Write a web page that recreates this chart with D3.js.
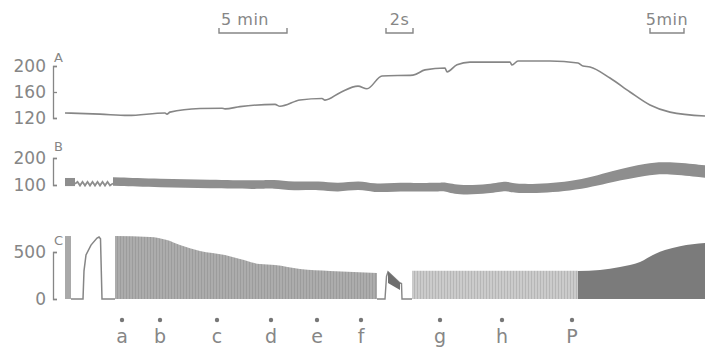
<!DOCTYPE html>
<html><head><meta charset="utf-8">
<script src="https://cdn.jsdelivr.net/npm/d3@7"></script>
<style>
html,body{margin:0;padding:0;background:#fff;}
svg{display:block;font-family:"DejaVu Sans",sans-serif;}
</style></head>
<body><svg id="c" width="705" height="351"></svg>
<script>
// ---- data (position along chart record, arbitrary units 0..640) ----
// Trace A: [position, value]
const traceA = [[0,127.7],[35,126],[63,124],[100,127.7],[102,126],[105,129],[135,134.5],[157,135],[160,134],[175,137.5],[210,141],[215,138],[235,147.7],[257,150],[260,147.5],[275,159],[293,169],[302,165],[317,184.6],[348,186],[360,194],[380,197],[382,191],[392,202],[405,206],[445,206],[447,201.5],[453,207.7],[485,207.7],[513,204.6],[518,200],[525,198.5],[545,181.5],[565,160],[585,140],[605,129],[640,123]];
const ticksA = [120,160,200];

// Trace B: opening block [start,end,low,high]
const bBlock = [0,10,96,126];
// Trace B: oscillating segment [position, value]
const bZig = [[10,104],[12.5,112],[15,98],[17.5,112],[20,98],[22.5,112],[25,98],[27.5,112],[30,98],[32.5,112],[35,98],[37.5,112],[40,98],[42.5,112],[45,98],[48,106]];
// Trace B band: [position, low, high]
const bBand = [[48,97,129],[95,91,123],[145,88,120],[195,84,116],[208,89,121],[228,78,110],[255,84,116],[272,72,104],[295,86,118],[308,71,103],[330,76,108],[347,76,108],[375,75,107],[378,80,112],[392,62,98],[425,68,102],[443,82,118],[448,66,100],[508,75,109],[548,112,154],[582,136,182],[602,143,187],[640,127,173]];
const ticksB = [100,200];

// Trace C
const cBar1 = [0,6,670];
const cPulse = [[6,0],[18,0],[19,300],[21,468],[26,574],[32,649],[34,660],[35.5,640],[37,0],[50,0]];
const cFill1 = [[50,670],[85,660],[102,628],[115,575],[135,511],[160,468],[175,426],[195,372],[210,362],[235,319],[265,298],[312,277]];
const cSpikeLine = [[312,0],[320,0],[321.5,240],[323,290],[335,170],[336.5,165],[337,0],[347,0]];
const cFlagTop = [[323,290],[335,170]];
const cFlagBottom = [[323,170],[335,95]];
const cFill2 = [[347,300],[513,300]];
const cFill3 = [[513,298],[535,309],[555,340],[575,394],[590,480],[600,521],[615,562],[640,596]];
const ticksC = [0,500];

// Event markers
const markerLabels = ['a','b','c','d','e','f','g','h','P'];
const markerPos = [57,95,152,206,252,296,375,437,507];

// Time scale bars: [start, end, label]
const scaleBars = [[154,222,'5 min'],[321,348,'2s'],[585,619,'5min']];

// ---- drawing ----
const svg = d3.select('#c');
const ink = '#868686';
const x = d3.scaleLinear().domain([0,640]).range([65,705]);
const yA = d3.scaleLinear().domain([120,200]).range([118,66]);
const yB = d3.scaleLinear().domain([100,200]).range([185,158]);
const yC = d3.scaleLinear().domain([0,500]).range([299,252]);

const defs = svg.append('defs');
function hatch(id, bg, fg){
  const p = defs.append('pattern').attr('id',id).attr('patternUnits','userSpaceOnUse').attr('width',3).attr('height',10);
  p.append('rect').attr('width',3).attr('height',10).attr('fill',bg);
  p.append('rect').attr('width',1).attr('height',10).attr('fill',fg);
}
hatch('h1','#acacac','#9c9c9c');
hatch('h2','#cbcbcb','#b6b6b6');

function axis(scale, ticks, letter, ly){
  const g = svg.append('g').attr('transform','translate(53,0)')
    .call(d3.axisLeft(scale).tickValues(ticks).tickFormat(d3.format('d'))
      .tickSizeInner(-4).tickSizeOuter(-4).tickPadding(7));
  g.selectAll('path,line').attr('stroke',ink).attr('stroke-width',1.3);
  g.selectAll('text').attr('fill',ink).attr('font-size',17).attr('font-family','DejaVu Sans, sans-serif');
  svg.append('text').attr('x',54).attr('y',ly).text(letter).attr('fill',ink).attr('font-size',13);
}
axis(yA, ticksA, 'A', 62);
axis(yB, ticksB, 'B', 151);
axis(yC, ticksC, 'C', 245);

// A
svg.append('path').datum(traceA)
  .attr('d', d3.line().x(d=>x(d[0])).y(d=>yA(d[1])).curve(d3.curveMonotoneX))
  .attr('fill','none').attr('stroke',ink).attr('stroke-width',1.6);

// B
svg.append('rect').attr('x',x(bBlock[0])).attr('width',x(bBlock[1])-x(bBlock[0]))
  .attr('y',yB(bBlock[3])).attr('height',yB(bBlock[2])-yB(bBlock[3])).attr('fill','#8e8e8e');
svg.append('path').datum(bZig)
  .attr('d', d3.line().x(d=>x(d[0])).y(d=>yB(d[1])))
  .attr('fill','none').attr('stroke','#8e8e8e').attr('stroke-width',1.8);
svg.append('path').datum(bBand)
  .attr('d', d3.area().x(d=>x(d[0])).y0(d=>yB(d[1])).y1(d=>yB(d[2])).curve(d3.curveBasis))
  .attr('fill','#8e8e8e');

// C
const lineC = d3.line().x(d=>x(d[0])).y(d=>yC(d[1]));
svg.append('rect').attr('x',x(cBar1[0])).attr('width',x(cBar1[1])-x(cBar1[0]))
  .attr('y',yC(cBar1[2])).attr('height',yC(0)-yC(cBar1[2])).attr('fill','#a9a9a9');
svg.append('path').datum(cPulse).attr('d',lineC).attr('fill','none').attr('stroke',ink).attr('stroke-width',1.5);
svg.append('path').datum(cFill1).attr('d',d3.area().x(d=>x(d[0])).y0(yC(0)).y1(d=>yC(d[1])).curve(d3.curveMonotoneX)).attr('fill','url(#h1)');
svg.append('path').datum(cSpikeLine).attr('d',lineC).attr('fill','none').attr('stroke',ink).attr('stroke-width',1.4);
svg.append('path').datum(cFlagTop.map((d,i)=>[d[0],cFlagBottom[i][1],d[1]]))
  .attr('d',d3.area().x(d=>x(d[0])).y0(d=>yC(d[1])).y1(d=>yC(d[2]))).attr('fill','#6e6e6e');
svg.append('path').datum(cFill2).attr('d',d3.area().x(d=>x(d[0])).y0(yC(0)).y1(d=>yC(d[1]))).attr('fill','url(#h2)');
svg.append('path').datum(cFill3).attr('d',d3.area().x(d=>x(d[0])).y0(yC(0)).y1(d=>yC(d[1])).curve(d3.curveMonotoneX)).attr('fill','#7b7b7b');

// markers
const mk = svg.append('g');
mk.selectAll('circle').data(markerPos).join('circle')
  .attr('cx',d=>x(d)).attr('cy',320).attr('r',2.2).attr('fill','#777');
mk.selectAll('text').data(markerLabels).join('text')
  .attr('x',(d,i)=>x(markerPos[i])).attr('y',343).attr('text-anchor','middle')
  .attr('font-size',19).attr('fill',ink).text(d=>d);

// scale bars
const sb = svg.append('g');
scaleBars.forEach(b=>{
  const x0 = x(b[0]), x1 = x(b[1]);
  sb.append('path').attr('d',`M${x0},28V33H${x1}V28`).attr('fill','none').attr('stroke',ink).attr('stroke-width',1.4);
  sb.append('text').attr('x',(x0+x1)/2 - (b[2]==='5 min'?8:0)).attr('y',25).attr('text-anchor','middle')
    .attr('font-size',16).attr('letter-spacing',0.5).attr('fill',ink).text(b[2]);
});
</script></body></html>
